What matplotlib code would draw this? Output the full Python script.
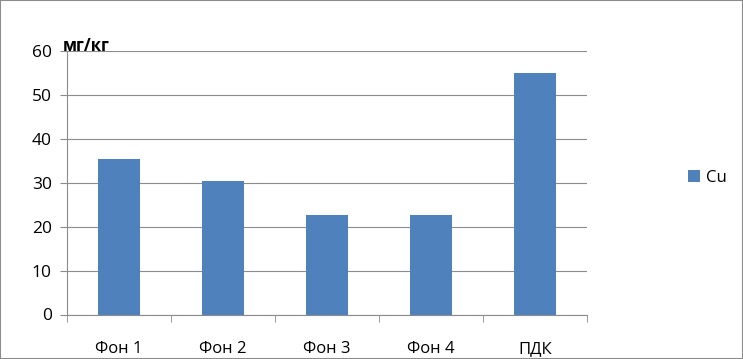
import matplotlib.pyplot as plt
import numpy as np
from matplotlib.patches import Rectangle

categories = ['Фон 1', 'Фон 2', 'Фон 3', 'Фон 4', 'ПДК']
cu = [35.4, 30.4, 22.7, 22.7, 55]

plt.rcParams['font.family'] = ['Open Sans', 'DejaVu Sans']

fig = plt.figure(figsize=(7.43, 3.59), dpi=100)
ax = fig.add_axes([67/743, (359-314.5)/359, 520/743, 263.5/359])

x = np.arange(len(categories))
bars = ax.bar(x, cu, width=0.4, color='#4f81bd', label='Cu', zorder=3)

ax.set_xlim(-0.5, len(categories) - 0.5)
ax.set_ylim(0, 60)
ax.set_yticks(range(0, 61, 10))
ax.yaxis.grid(True, color='#8c8c8c', linewidth=0.8)
ax.set_axisbelow(True)

ax.set_xticks(x)
ax.set_xticklabels(categories, fontsize=12)
ax.set_xticks(np.arange(-0.5, len(categories), 1), minor=True)
ax.tick_params(axis='x', which='major', length=0, pad=19)
ax.tick_params(axis='x', which='minor', length=5, color='#8c8c8c', direction='out')
ax.tick_params(axis='y', length=5, color='#8c8c8c', labelsize=12.5, pad=6)

for s in ['top', 'right']:
    ax.spines[s].set_visible(False)
for s in ['left', 'bottom']:
    ax.spines[s].set_color('#8c8c8c')
    ax.spines[s].set_linewidth(0.8)

fig.text(63/743, 1 - 46/359, 'мг/кг', fontsize=12, fontweight='bold', va='center', ha='left')

ax.legend(loc='center left', bbox_to_anchor=(673/743, 1 - 178/359),
          bbox_transform=fig.transFigure, frameon=False, fontsize=12,
          handlelength=0.7, handleheight=0.7, handletextpad=0.4)

fig.patches.append(Rectangle((0, 0), 1, 1, transform=fig.transFigure, fill=False,
                             edgecolor='#8c8c8c', linewidth=1.5))

plt.savefig('out.png', dpi=100)
